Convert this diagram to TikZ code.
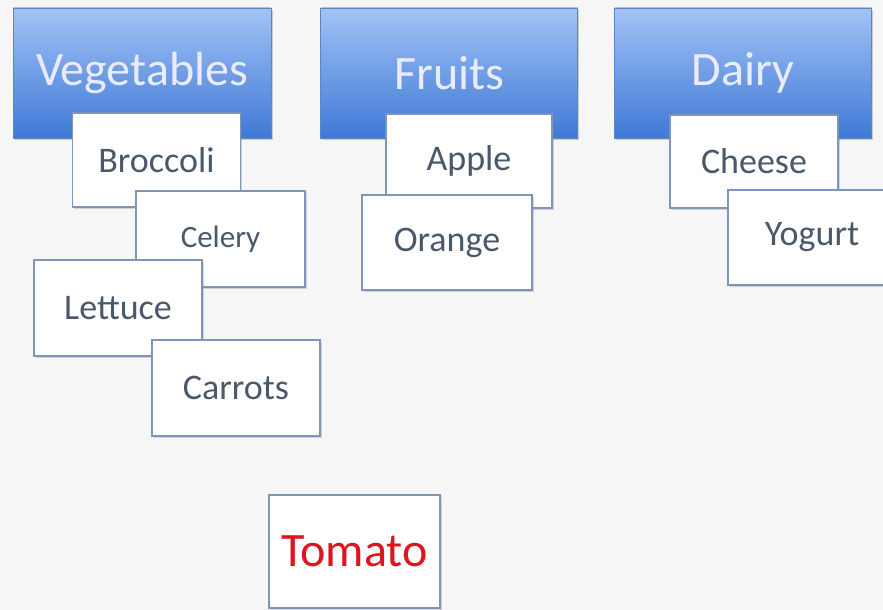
\documentclass[tikz,border=0pt]{standalone}
\usepackage{fontspec}
\setmainfont{Carlito}
\usepackage{tikz}
\usetikzlibrary{positioning,shadows}
\definecolor{bgcol}{HTML}{F6F6F6}
\definecolor{hdtop}{HTML}{A2C3F5}
\definecolor{hdbot}{HTML}{3E79D6}
\definecolor{hdline}{HTML}{5B86C6}
\definecolor{cardline}{HTML}{7E95B8}
\definecolor{cardtext}{HTML}{4A586C}
\definecolor{tomred}{HTML}{E0141E}
\tikzset{
    catnode/.style={rectangle, draw=hdline, thick, top color=hdtop, bottom color=hdbot,
      minimum width=257pt, minimum height=130pt, inner sep=0pt, text=white!92!blue,
      font=\fontsize{48}{52}\selectfont,
      drop shadow={shadow xshift=1.5pt, shadow yshift=-2pt, opacity=0.35}},
    cardnode/.style={rectangle, draw=cardline, line width=1.4pt, fill=white,
      minimum width=168pt, minimum height=95pt, inner sep=0pt, text=cardtext,
      font=\fontsize{36}{40}\selectfont,
      drop shadow={shadow xshift=1.5pt, shadow yshift=-2pt, opacity=0.3}}
}
\begin{document}
\begin{tikzpicture}[x=1pt, y=-1pt]
    \fill[bgcol] (0,0) rectangle (883,610);
    \useasboundingbox (0,0) rectangle (883,610);
    % category headers
    \node[catnode, minimum width=258pt] (veg) at (142,73) {Vegetables};
    \node[catnode, right=49pt of veg] (fruits) {Fruits};
    \node[catnode, right=36pt of fruits] (dairy) {Dairy};
    % vegetables
    \node[cardnode, minimum height=94pt] (broccoli) at (156.5,160) {Broccoli};
    \node[cardnode, minimum width=169pt, minimum height=96pt,
      font=\fontsize{31}{34}\selectfont] (celery) at (220.5,239) {Celery};
    \node[cardnode, minimum height=96pt] (lettuce) at (118,308) {Lettuce};
    \node[cardnode, minimum height=96pt] (carrots) at (236,388) {Carrots};
    % fruits
    \node[cardnode, minimum width=166pt, minimum height=94pt] (apple) at (469,161) {Apple};
    \node[cardnode, minimum width=170pt] (orange) at (447,242.5) {Orange};
    % dairy
    \node[cardnode, minimum height=93pt] (cheese) at (754,161.5) {Cheese};
    \node[cardnode] (yogurt) at (812,237.5) {Yogurt};
    % the odd one
    \node[cardnode, minimum width=171pt, minimum height=113pt, text=tomred,
      font=\fontsize{48}{52}\selectfont] (tomato) at (354.5,551.5) {Tomato};
\end{tikzpicture}
\end{document}
